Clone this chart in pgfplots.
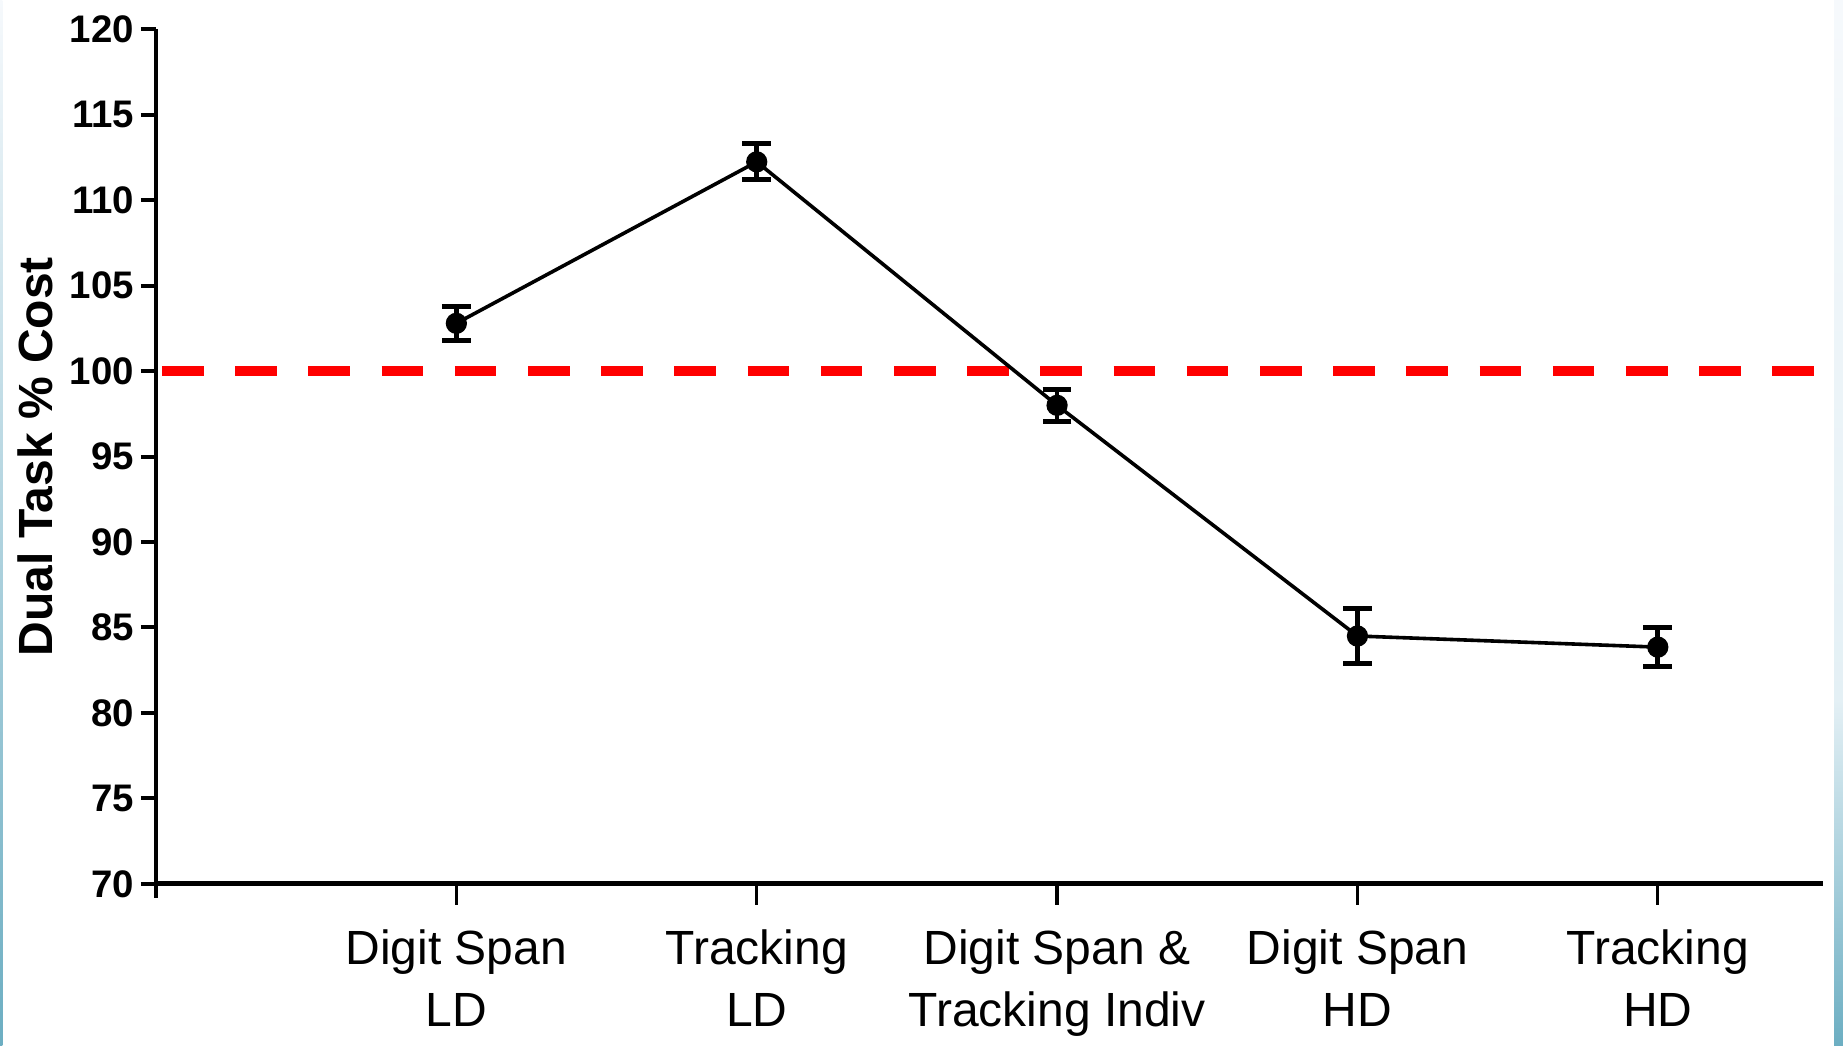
\documentclass[border=0pt]{standalone}
\usepackage{fontspec}
\setmainfont{Liberation Sans}
\usepackage{pgfplots}
\pgfplotsset{compat=1.18}
\definecolor{stripA}{RGB}{246,249,252}
\definecolor{stripB}{RGB}{228,240,245}
\definecolor{stripC}{RGB}{108,174,194}
\begin{document}
\begin{tikzpicture}
\begin{axis}[
  at={(0,0)}, anchor=south west,
  scale only axis, width=416.75pt, height=213.6pt,
  xmin=-1, xmax=4.55, ymin=70, ymax=120,
  axis lines*=left,
  axis line style={line width=1.2pt, black},
  y axis line style={shorten <=-3.5pt},
  tick align=outside,
  ytick={70,75,...,120},
  xtick={0,1,2,3,4},
  xticklabels={{Digit Span\\LD},{Tracking\\LD},{Digit Span \&\\Tracking Indiv},{Digit Span\\HD},{Tracking\\HD}},
  xticklabel style={align=center, font=\fontsize{12}{15.4}\selectfont, yshift=-3.8pt},
  yticklabel style={font=\bfseries\fontsize{9.6}{10}\selectfont, xshift=2.3pt},
  /pgf/number format/assume math mode=true,
  xtick style={black, line width=0.8pt, /pgfplots/major tick length=5.3pt},
  ytick style={black, line width=1.0pt, /pgfplots/major tick length=3.8pt},
  ylabel={Dual Task \% Cost},
  ylabel style={font=\bfseries\fontsize{12}{12}\selectfont, at={([xshift=-30.2pt]rel axis cs:0,0.5)}, anchor=center},
  clip=false,
]
\coordinate (bl) at (rel axis cs:0,0);
\coordinate (tr) at (rel axis cs:1,1);
\addplot[red, line width=2.4pt, dash pattern=on 10.4pt off 7.9pt, dash phase=16.8pt] coordinates {(-1,100) (4.55,100)};
\addplot[black, line width=0.9pt, mark=*, mark size=2.2pt,
  error bars/.cd, y dir=both, y explicit,
  error bar style={line width=1.2pt, solid},
  error mark options={rotate=90, mark size=3.6pt, line width=1.2pt}]
  coordinates {
  (0,102.8) +- (0,1.0)
  (1,112.25) +- (0,1.05)
  (2,98.0) +- (0,0.93)
  (3,84.5) +- (0,1.6)
  (4,83.85) +- (0,1.15)
  };
\end{axis}
\pgfresetboundingbox
\coordinate (PBL) at ([shift={(-39pt,-40.5pt)}]bl);
\coordinate (PTR) at ([shift={(5pt,7.35pt)}]tr);
\useasboundingbox (PBL) rectangle (PTR);
% slide background strips at the edges
\shade[top color=stripA, bottom color=stripB] ([xshift=-2.25pt]PTR) rectangle ([yshift=86.5pt]PBL -| PTR);
\shade[top color=stripB, bottom color=stripC] ([xshift=-2.25pt,yshift=86.5pt]PBL -| PTR) rectangle (PBL -| PTR);
\shade[top color=stripA, bottom color=stripC] (PBL |- PTR) rectangle ([xshift=0.6pt]PBL);
\end{tikzpicture}
\end{document}
